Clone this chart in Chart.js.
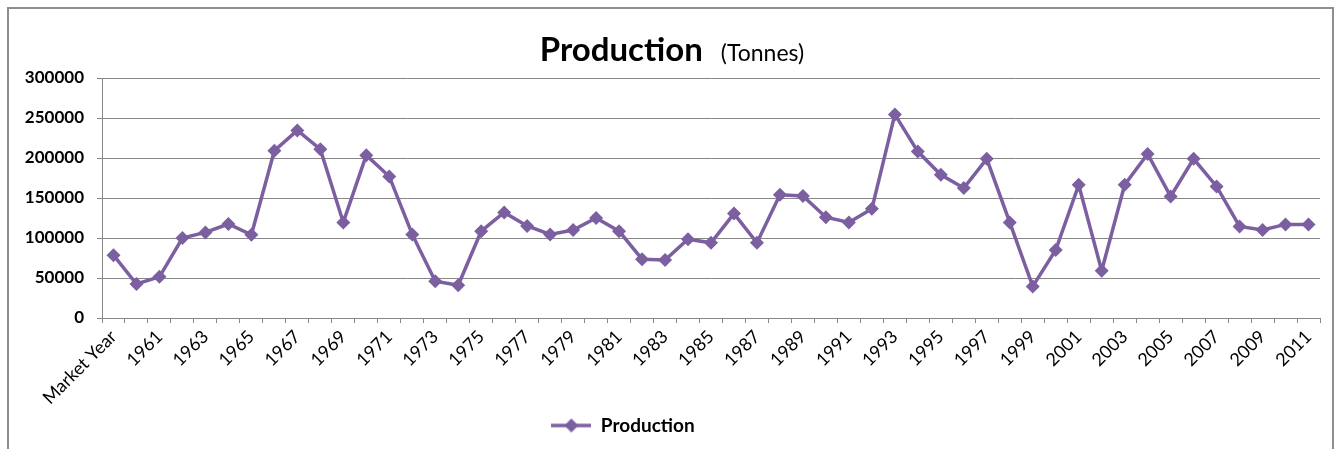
<!DOCTYPE html>
<html>
<head>
<meta charset="utf-8">
<script src="https://cdn.jsdelivr.net/npm/chart.js@4"></script>
<style>
  html, body { margin: 0; padding: 0; background: #fff; }
  #wrap { position: relative; width: 1339px; height: 449px; }
  #frame { position: absolute; left: 7px; top: 7px; width: 1327px; height: 450px; border: 2px solid #8e8e8e; box-sizing: border-box; }
  canvas { position: absolute; left: 0; top: 0; }
</style>
</head>
<body>
<div id="wrap">
  <div id="frame"></div>
  <canvas id="myChart" width="1339" height="449"></canvas>
</div>
<script>
'use strict'

// categories (first one is the header cell that ended up in the series)
const years = ['Market Year', '1960', '1961', '1962', '1963', '1964', '1965', '1966', '1967', '1968', '1969',
  '1970', '1971', '1972', '1973', '1974', '1975', '1976', '1977', '1978', '1979',
  '1980', '1981', '1982', '1983', '1984', '1985', '1986', '1987', '1988', '1989',
  '1990', '1991', '1992', '1993', '1994', '1995', '1996', '1997', '1998', '1999',
  '2000', '2001', '2002', '2003', '2004', '2005', '2006', '2007', '2008', '2009',
  '2010', '2011'];

// production in tonnes
const production = [78500, 42500, 51500, 100000, 107000, 117500, 104000, 209000, 234500, 211000, 119500,
  203500, 177000, 104500, 46000, 41000, 108500, 132000, 115000, 104500, 110000,
  125000, 108500, 73500, 72500, 98500, 94000, 130500, 94000, 154000, 152500,
  126000, 119500, 136500, 254500, 208000, 179000, 162500, 199000, 119500, 39500,
  85000, 166500, 59000, 166500, 205000, 152000, 199000, 164500, 114500, 110000,
  117000, 117000];

const yTicks = [0, 50000, 100000, 150000, 200000, 250000, 300000];

const purple = '#7c5fa0';
const gridGray = '#878787';
const fontName = 'Lato, "Liberation Sans", sans-serif';

// legend swatch: line with a diamond in the middle
const swatch = document.createElement('canvas');
swatch.width = 40;
swatch.height = 16;
const sctx = swatch.getContext('2d');
sctx.strokeStyle = purple;
sctx.lineWidth = 3.5;
sctx.beginPath();
sctx.moveTo(0, 8);
sctx.lineTo(40, 8);
sctx.stroke();
sctx.fillStyle = purple;
sctx.beginPath();
sctx.moveTo(20, 1);
sctx.lineTo(27, 8);
sctx.lineTo(20, 15);
sctx.lineTo(13, 8);
sctx.closePath();
sctx.fill();

// title "Production (Tonnes)" with two font sizes on one line
const titlePlugin = {
  id: 'twoPartTitle',
  afterLayout(chart) {
    // excel put the legend a bit left of centre
    if (chart.legend) {
      chart.legend.left -= 42;
      chart.legend.right -= 42;
    }
  },
  afterDraw(chart) {
    const c = chart.ctx;
    c.save();
    c.fillStyle = '#000';
    c.textBaseline = 'alphabetic';
    c.font = 'bold 33px ' + fontName;
    const w1 = c.measureText('Production').width;
    c.font = '23px ' + fontName;
    const w2 = c.measureText('(Tonnes)').width;
    const gap = 18;
    let x = 672 - (w1 + gap + w2) / 2;
    c.font = 'bold 33px ' + fontName;
    c.fillText('Production', x, 61);
    c.font = '23px ' + fontName;
    c.fillText('(Tonnes)', x + w1 + gap, 61);
    c.restore();
  }
};

const ctx = document.getElementById('myChart').getContext('2d');

const myChart = new Chart(ctx, {
  type: 'line',
  data: {
    labels: years,
    datasets: [{
      label: 'Production',
      data: production,
      borderColor: purple,
      backgroundColor: purple,
      borderWidth: 3.5,
      pointStyle: 'rectRot',
      pointRadius: 7,
      pointBorderWidth: 0,
      pointBackgroundColor: purple,
      tension: 0
    }]
  },
  options: {
    responsive: false,
    animation: false,
    layout: {
      padding: { left: 10, top: 78, right: 19, bottom: 4 }
    },
    plugins: {
      title: { display: false },
      tooltip: { enabled: false },
      legend: {
        position: 'bottom',
        labels: {
          usePointStyle: true,
          pointStyleWidth: 40,
          padding: 8,
          color: '#000',
          font: { family: fontName, size: 19, weight: 'bold' },
          generateLabels(chart) {
            const items = Chart.defaults.plugins.legend.labels.generateLabels(chart);
            items.forEach(function (it) { it.pointStyle = swatch; });
            return items;
          }
        }
      }
    },
    scales: {
      x: {
        offset: true,
        grid: {
          offset: true,
          drawOnChartArea: false,
          drawTicks: true,
          tickLength: 5,
          color: gridGray
        },
        border: { display: true, color: gridGray, width: 1 },
        ticks: {
          autoSkip: false,
          maxRotation: 45,
          minRotation: 45,
          padding: 3,
          color: '#000',
          font: { family: fontName, size: 18 },
          callback: function (value, index) {
            return index % 2 === 0 ? years[index] : '';
          }
        },
        afterFit: function (scale) { scale.height = 90; }
      },
      y: {
        min: 0,
        max: 300000,
        afterBuildTicks: function (scale) {
          scale.ticks = yTicks.map(function (v) { return { value: v }; });
        },
        grid: {
          color: gridGray,
          lineWidth: 1,
          tickLength: 5
        },
        border: { display: true, color: gridGray, width: 1 },
        ticks: {
          padding: 13,
          color: '#000',
          font: { family: fontName, size: 17, weight: 'bold' },
          callback: function (value) { return String(value); }
        },
        afterFit: function (scale) { scale.width = 92; }
      }
    }
  },
  plugins: [titlePlugin]
});
</script>
</body>
</html>
